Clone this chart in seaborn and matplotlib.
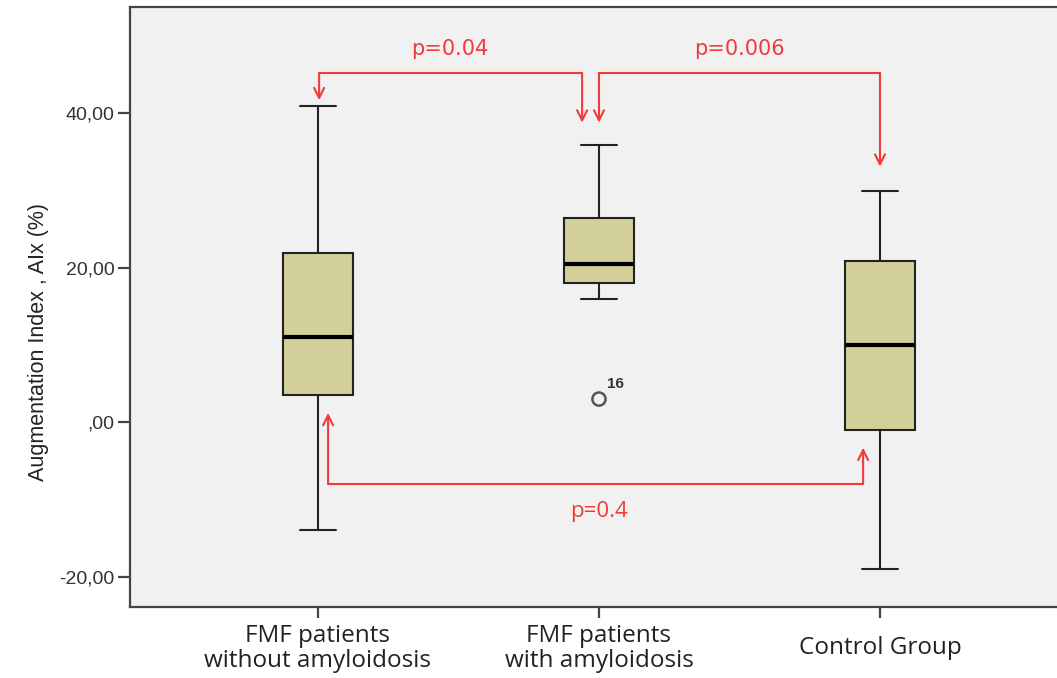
import numpy as np
import pandas as pd
import seaborn as sns
import matplotlib.pyplot as plt

# Five-number summaries (min, Q1, median, Q3, max)
groups = ["FMF patients\nwithout amyloidosis", "FMF patients\nwith amyloidosis", "Control Group"]
no_amyloid = [-13.9, 3.5, 11.0, 21.9, 40.9]
with_amyloid = [16.0, 18.0, 20.5, 26.4, 35.9]
control = [-19.0, -1.0, 10.0, 20.9, 29.9]

# outlier in the amyloidosis group (case 16)
outlier_group = [groups[1]]
outlier_value = [3.0]
outlier_label = ["16"]

ytick_values = [-20, 0, 20, 40]
ytick_labels = ["-20,00", ",00", "20,00", "40,00"]

p_labels = ["p=0.04", "p=0.006", "p=0.4"]

df = pd.DataFrame({
    "group": np.repeat(groups, 5),
    "value": no_amyloid + with_amyloid + control,
})

sns.set_theme(style="white", rc={
    "axes.facecolor": "#f1f1f1",
    "axes.edgecolor": "#444444",
    "axes.linewidth": 1.6,
    "xtick.bottom": True,
    "ytick.left": True,
})
plt.rcParams['font.family'] = ['Liberation Sans', 'DejaVu Sans']

fig = plt.figure(figsize=(10.57, 6.78), dpi=100)
ax = fig.add_axes([0.123, 0.105, 0.877, 0.885])

sns.boxplot(data=df, x="group", y="value", order=groups, whis=np.inf,
            width=0.25, color="#d3cf98", saturation=1, linecolor="#222222",
            linewidth=1.5, medianprops={"color": "black", "linewidth": 3},
            ax=ax)

# outlier point
sns.scatterplot(x=outlier_group, y=outlier_value, marker="o", s=90,
                facecolor="none", edgecolor="#555555", linewidth=1.8, ax=ax)
ax.text(1.03, outlier_value[0] + 1.0, outlier_label[0], fontsize=11,
        color="#333333", ha="left", va="bottom", fontweight="bold")

ax.set_xlim(-0.669, 2.63)
ax.set_ylim(-23.9, 53.8)
ax.spines["right"].set_visible(False)

ax.set_yticks(ytick_values)
ax.set_yticklabels(ytick_labels, fontsize=14, color="#333333")
ax.tick_params(axis="y", length=9, width=1.6, color="#444444", pad=2)
ax.tick_params(axis="x", length=8, width=1.6, color="#444444", pad=22)
for lab in ax.get_xticklabels():
    lab.set_fontfamily(["Open Sans", "DejaVu Sans"])
    lab.set_fontsize(17.5)
    lab.set_color("#222222")
    lab.set_verticalalignment("center")
    lab.set_multialignment("center")
    lab.set_linespacing(1.1)

ax.set_xlabel("")
ax.set_ylabel("Augmentation Index , AIx (%)", fontsize=15.5, color="#222222")
ax.yaxis.set_label_coords(-0.087, 0.441)

# red comparison brackets
red = "#f23a3a"
def bracket(x1, x2, ybar, tip1, tip2):
    ax.plot([x1, x2], [ybar, ybar], color=red, lw=1.5)
    for x, tip in ((x1, tip1), (x2, tip2)):
        ax.annotate("", xy=(x, tip), xytext=(x, ybar),
                    arrowprops=dict(arrowstyle="->", color=red, lw=1.5,
                                    mutation_scale=18, shrinkA=0, shrinkB=0))

bracket(0.004, 0.94, 45.2, 41.7, 38.8)
bracket(1.0, 2.0, 45.2, 38.8, 33.1)
bracket(0.036, 1.94, -8.0, 1.2, -3.3)

ax.text(0.47, 48.3, p_labels[0], color=red, fontsize=15, ha="center", va="center",
        family=["DejaVu Sans"])
ax.text(1.50, 48.3, p_labels[1], color=red, fontsize=15, ha="center", va="center",
        family=["DejaVu Sans"])
ax.text(1.0, -11.6, p_labels[2], color=red, fontsize=16, ha="center", va="center",
        family=["Open Sans", "DejaVu Sans"])

plt.savefig("out.png", dpi=100)
